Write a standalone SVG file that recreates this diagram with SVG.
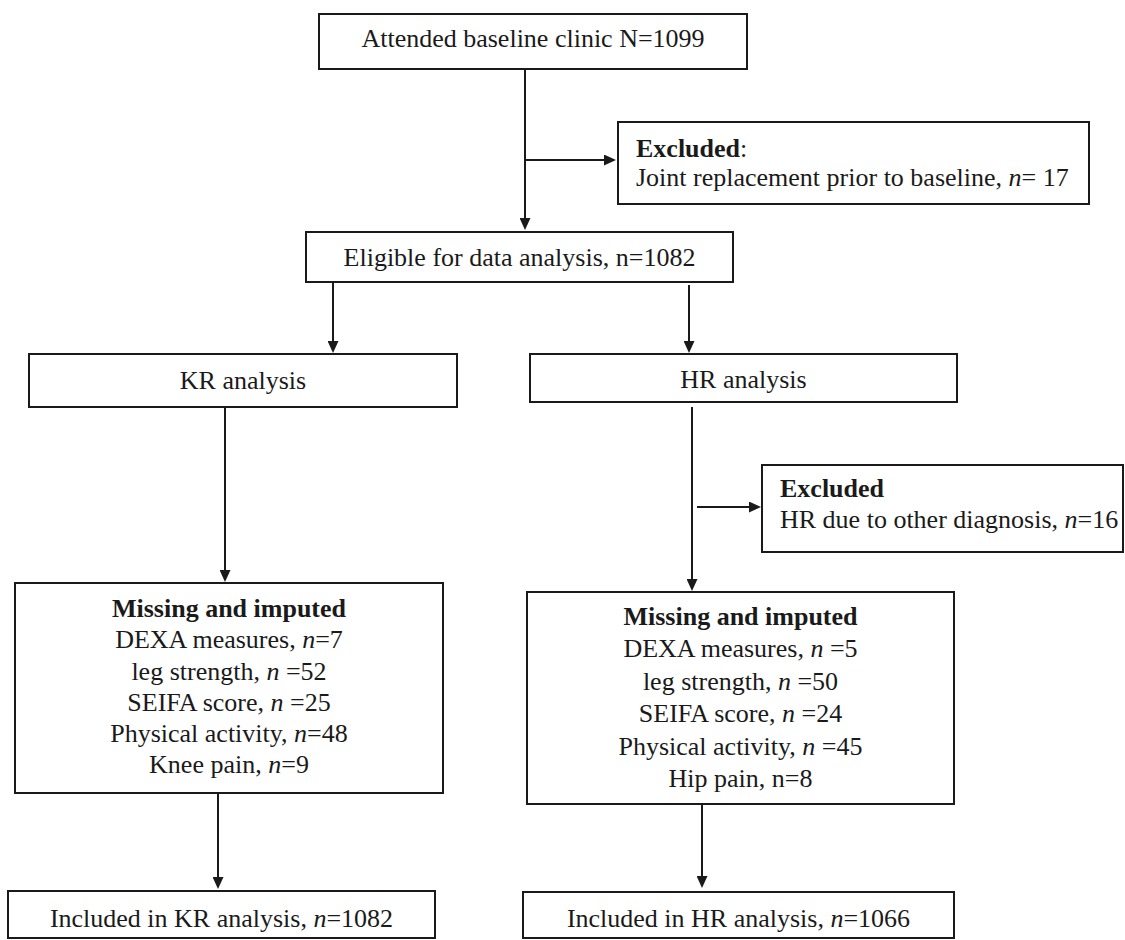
<svg xmlns="http://www.w3.org/2000/svg" width="1125" height="940" viewBox="0 0 1125 940">
<defs>
<style>
.box{fill:#fff;stroke:#1a1a1a;stroke-width:2}
.t{font-family:"Liberation Serif","Times New Roman",serif;font-size:26px;fill:#1a1a1a}
.c{text-anchor:middle}
.b{font-weight:bold}
.i{font-style:italic}
.ln{stroke:#1a1a1a;stroke-width:2;fill:none;marker-end:url(#ah)}
</style>
<marker id="ah" viewBox="0 0 12 11" refX="6" refY="5.5" markerWidth="12" markerHeight="11" markerUnits="userSpaceOnUse" orient="auto">
<path d="M0,0 L12,5.5 L0,11 z" fill="#1a1a1a"/>
</marker>
</defs>
<rect width="1125" height="940" fill="#fff"/>
<g id="connectors">
<line class="ln" x1="525" y1="69" x2="525" y2="224"/>
<line class="ln" x1="525" y1="160" x2="610" y2="160"/>
<line class="ln" x1="333" y1="282" x2="333" y2="347"/>
<line class="ln" x1="689" y1="285" x2="689" y2="347"/>
<line class="ln" x1="225" y1="407" x2="225" y2="576"/>
<line class="ln" x1="692" y1="407" x2="692" y2="585"/>
<line class="ln" x1="697" y1="507" x2="755" y2="507"/>
<line class="ln" x1="218" y1="793" x2="218" y2="883"/>
<line class="ln" x1="702" y1="804" x2="702" y2="882"/>
</g>
<g id="attended">
<rect class="box" x="319" y="14" width="428" height="55"/>
<text class="t c" x="533" y="47">Attended baseline clinic N=1099</text>
</g>
<g id="excluded1">
<rect class="box" x="618" y="122" width="471" height="82"/>
<text class="t" x="636" y="157"><tspan class="b">Excluded</tspan>:</text>
<text class="t" x="636" y="186">Joint replacement prior to baseline, <tspan class="i">n</tspan>= 17</text>
</g>
<g id="eligible">
<rect class="box" x="306" y="232" width="427" height="50"/>
<text class="t c" x="519.5" y="266">Eligible for data analysis, n=1082</text>
</g>
<g id="kr">
<rect class="box" x="29" y="354" width="428" height="53"/>
<text class="t c" x="243" y="389">KR analysis</text>
</g>
<g id="hr">
<rect class="box" x="530" y="354" width="427" height="48"/>
<text class="t c" x="743.5" y="388">HR analysis</text>
</g>
<g id="excluded2">
<rect class="box" x="762" y="465" width="361" height="87"/>
<text class="t b" x="780" y="497">Excluded</text>
<text class="t" x="780" y="528">HR due to other diagnosis, <tspan class="i">n</tspan>=16</text>
</g>
<g id="missing-kr">
<rect class="box" x="15" y="583" width="428" height="210"/>
<text class="t c b" x="229" y="617">Missing and imputed</text>
<text class="t c" x="229" y="648">DEXA measures, <tspan class="i">n</tspan>=7</text>
<text class="t c" x="229" y="680">leg strength, <tspan class="i">n</tspan> =52</text>
<text class="t c" x="229" y="711">SEIFA score, <tspan class="i">n</tspan> =25</text>
<text class="t c" x="229" y="742">Physical activity, <tspan class="i">n</tspan>=48</text>
<text class="t c" x="229" y="773">Knee pain, <tspan class="i">n</tspan>=9</text>
</g>
<g id="missing-hr">
<rect class="box" x="527" y="592" width="427" height="212"/>
<text class="t c b" x="740.5" y="625">Missing and imputed</text>
<text class="t c" x="740.5" y="657">DEXA measures, <tspan class="i">n</tspan> =5</text>
<text class="t c" x="740.5" y="690">leg strength, <tspan class="i">n</tspan> =50</text>
<text class="t c" x="740.5" y="722">SEIFA score, <tspan class="i">n</tspan> =24</text>
<text class="t c" x="740.5" y="755">Physical activity, <tspan class="i">n</tspan> =45</text>
<text class="t c" x="740.5" y="787">Hip pain, n=8</text>
</g>
<g id="included-kr">
<rect class="box" x="8" y="891" width="427" height="47"/>
<text class="t c" x="221.5" y="927">Included in KR analysis, <tspan class="i">n</tspan>=1082</text>
</g>
<g id="included-hr">
<rect class="box" x="523" y="892" width="431" height="46"/>
<text class="t c" x="738.5" y="927">Included in HR analysis, <tspan class="i">n</tspan>=1066</text>
</g>
</svg>
